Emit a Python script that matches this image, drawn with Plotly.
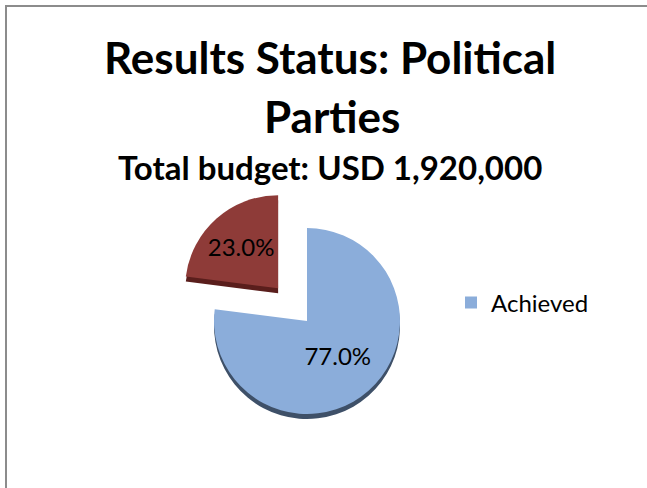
import plotly.graph_objects as go

# ---- data ----
labels = ["Achieved", "Not achieved"]
values = [77.0, 23.0]
pulls = [0, 0.47]
title_line1 = "Results Status: Political"
title_line2 = "Parties"
subtitle = "Total budget: USD 1,920,000"
legend_label = "Achieved"

W, H = 647, 488
colors = ["#8BADDA", "#8E3B38"]
side_colors = ["#3E5068", "#5A1E1C"]

# pie geometry (pixels)
cx, cy, r = 307, 321, 93
half = r * (1 + max(pulls))
def dom(cx, cy):
    return dict(x=[(cx - half) / W, (cx + half) / W],
                y=[1 - (cy + half) / H, 1 - (cy - half) / H])

FONT = "Lato"

fig = go.Figure()
# 3D side (darker copy, slightly shifted down)
fig.add_trace(go.Pie(
    labels=labels, values=values, pull=pulls, sort=False,
    direction="clockwise", rotation=0,
    marker=dict(colors=side_colors, line=dict(width=0)),
    textinfo="none", hoverinfo="skip", showlegend=False,
    domain=dom(cx, cy + 5),
))
fig.add_trace(go.Pie(
    labels=labels, values=values, pull=pulls, sort=False,
    direction="clockwise", rotation=0,
    marker=dict(colors=colors, line=dict(width=0)),
    texttemplate="%{percent:.1%}", textposition="inside",
    insidetextorientation="horizontal",
    textfont=dict(family=FONT, size=24, color="black"),
    showlegend=False,
    domain=dom(cx, cy),
))
# legend entry (only "Achieved" shown in the original)
fig.add_trace(go.Scatter(
    x=[None], y=[None], mode="markers", name=legend_label,
    marker=dict(symbol="square", size=12, color=colors[0]),
    showlegend=True,
))

fig.update_layout(
    width=W, height=H,
    margin=dict(l=0, r=0, t=0, b=0),
    paper_bgcolor="white", plot_bgcolor="white",
    xaxis=dict(visible=False), yaxis=dict(visible=False),
    showlegend=True,
    legend=dict(x=451 / W, y=1 - 303 / H, xanchor="left", yanchor="middle",
                font=dict(family=FONT, size=24, color="black"),
                bgcolor="rgba(0,0,0,0)", itemwidth=30),
    annotations=[
        dict(text=f"<b>{title_line1}</b>", x=330 / W, y=1 - 57 / H,
             xref="paper", yref="paper", showarrow=False,
             xanchor="center", yanchor="middle",
             font=dict(family=FONT, size=44, color="black")),
        dict(text=f"<b>{title_line2}</b>", x=332 / W, y=1 - 116 / H,
             xref="paper", yref="paper", showarrow=False,
             xanchor="center", yanchor="middle",
             font=dict(family=FONT, size=44, color="black")),
        dict(text=f"<b>{subtitle}</b>", x=330 / W, y=1 - 167 / H,
             xref="paper", yref="paper", showarrow=False,
             xanchor="center", yanchor="middle",
             font=dict(family=FONT, size=33, color="black")),
    ],
    shapes=[
        dict(type="rect", xref="paper", yref="paper",
             x0=6 / W, y0=-0.2, x1=1.2, y1=1 - 6 / H,
             line=dict(color="#8C8C8C", width=2), layer="below"),
    ],
)

fig.write_html("out.html",
               config={"displayModeBar": False},
               post_script="document.body.style.margin='0';document.body.style.overflow='hidden';")
